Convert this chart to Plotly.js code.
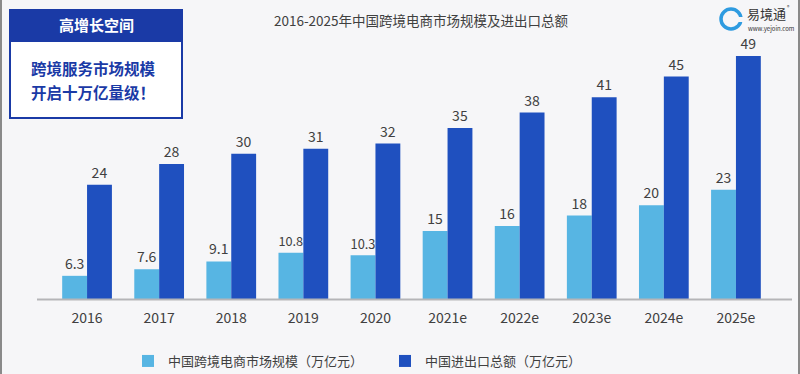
<!DOCTYPE html>
<html><head><meta charset="utf-8">
<script src="https://cdn.plot.ly/plotly-3.0.1.min.js"></script>
<style>html,body{margin:0;padding:0;background:#f6f6f8;}#c{width:800px;height:374px;}</style>
</head><body><div id="c"></div>
<script>
const years = ['2016','2017','2018','2019','2020','2021e','2022e','2023e','2024e','2025e'];
const ecommerce = [6.3, 7.6, 9.1, 10.8, 10.3, 15, 16, 18, 20, 23];
const tradeTotal = [24, 28, 30, 31, 32, 35, 38, 41, 45, 49];
const ecomLabels = ['6.3','7.6','9.1','10.8','10.3','15','16','18','20','23'];
const tradeLabels = ['24','28','30','31','32','35','38','41','45','49'];
const seriesNames = ['中国跨境电商市场规模（万亿元）', '中国进出口总额（万亿元）'];
const chartTitle = '2016-2025年中国跨境电商市场规模及进出口总额';

const L = 51, R = 772, T = 40, B = 299;
const px = x => (x - L) / (R - L);
const py = y => (B - y) / (B - T);
const FONT = '"Noto Sans CJK SC", "Noto Sans", sans-serif';

const traces = [
  {type:'bar', name: seriesNames[0], x: years, y: ecommerce, text: ecomLabels,
   textposition:'outside', cliponaxis:false,
   textfont:{size:14, color:'#404040', family:FONT},
   marker:{color:'#57b5e3'}},
  {type:'bar', name: seriesNames[1], x: years, y: tradeTotal, text: tradeLabels,
   textposition:'outside', cliponaxis:false,
   textfont:{size:14, color:'#404040', family:FONT},
   marker:{color:'#1f50bf'}}
];

const layout = {
  width:800, height:374,
  margin:{l:L, r:800-R, t:T, b:374-B, autoexpand:false},
  paper_bgcolor:'#f6f6f8', plot_bgcolor:'rgba(0,0,0,0)',
  font:{family:FONT, color:'#404040'},
  barmode:'group', bargap:0.31, bargroupgap:0,
  showlegend:true,
  legend:{orientation:'h', xref:'container', yref:'container', x:128/800, xanchor:'left',
          y:13/374, yanchor:'middle',
          font:{size:13, color:'#404040'}, bgcolor:'rgba(0,0,0,0)', entrywidth:212},
  title:{text: chartTitle, x: 421/800, xanchor:'center', y: 1-21/374, yanchor:'middle',
         font:{size:13.5, color:'#404040', family:FONT}},
  xaxis:{type:'category', range:[-0.5, 9.5], showgrid:false, zeroline:false, showline:false,
         ticks:'outside', ticklen:6, tickcolor:'rgba(0,0,0,0)',
         tickfont:{size:14, color:'#404040', family:FONT}},
  yaxis:{range:[1.8, 52.1], visible:false, showgrid:false, zeroline:false, fixedrange:true},
  shapes:[
    {type:'line', xref:'paper', yref:'paper', x0:px(37), x1:px(792), y0:py(299.5), y1:py(299.5),
     line:{color:'#b5b5b8', width:2}},
    {type:'rect', xref:'paper', yref:'paper', x0:px(10), x1:px(182), y0:py(10), y1:py(118),
     fillcolor:'#ffffff', line:{color:'#1a3aa6', width:2}},
    {type:'rect', xref:'paper', yref:'paper', x0:px(9), x1:px(183), y0:py(9), y1:py(42),
     fillcolor:'#1a3aa6', line:{width:0}},
    {type:'circle', xref:'paper', yref:'paper', x0:px(721), x1:px(741), y0:py(9), y1:py(29),
     fillcolor:'rgba(0,0,0,0)', line:{color:'#2e9be0', width:3.5}},
    {type:'rect', xref:'paper', yref:'paper', x0:px(735), x1:px(744), y0:py(17), y1:py(22),
     fillcolor:'#f6f6f8', line:{width:0}}
  ],
  annotations:[
    {xref:'paper', yref:'paper', x:px(96), y:py(25), text:'<b>高增长空间</b>', showarrow:false,
     font:{size:15, color:'#ffffff', family:FONT}, xanchor:'center', yanchor:'middle'},
    {xref:'paper', yref:'paper', x:px(29), y:py(68), text:'<b>跨境服务市场规模</b>', showarrow:false,
     font:{size:15.5, color:'#1a3aa6', family:FONT}, xanchor:'left', yanchor:'middle'},
    {xref:'paper', yref:'paper', x:px(29), y:py(92), text:'<b>开启十万亿量级！</b>', showarrow:false,
     font:{size:15.5, color:'#1a3aa6', family:FONT}, xanchor:'left', yanchor:'middle'},
    {xref:'paper', yref:'paper', x:px(745), y:py(14), text:'易境通', showarrow:false,
     font:{size:13, color:'#333333', family:FONT}, xanchor:'left', yanchor:'middle'},
    {xref:'paper', yref:'paper', x:px(746), y:py(28), text:'www.yejoin.com', showarrow:false,
     font:{size:6, color:'#333333', family:FONT}, xanchor:'left', yanchor:'middle'},
    {xref:'paper', yref:'paper', x:px(785), y:py(6), text:'®', showarrow:false,
     font:{size:5, color:'#333333', family:FONT}, xanchor:'left', yanchor:'middle'}
  ]
};

Plotly.newPlot('c', traces, layout, {displayModeBar:false, staticPlot:true});
</script>
<div style="position:absolute;left:0;top:0;width:2px;height:374px;background:#8a8a8a"></div>
<div style="position:absolute;right:0;top:0;width:2px;height:374px;background:#8a8a8a"></div>
</body></html>
